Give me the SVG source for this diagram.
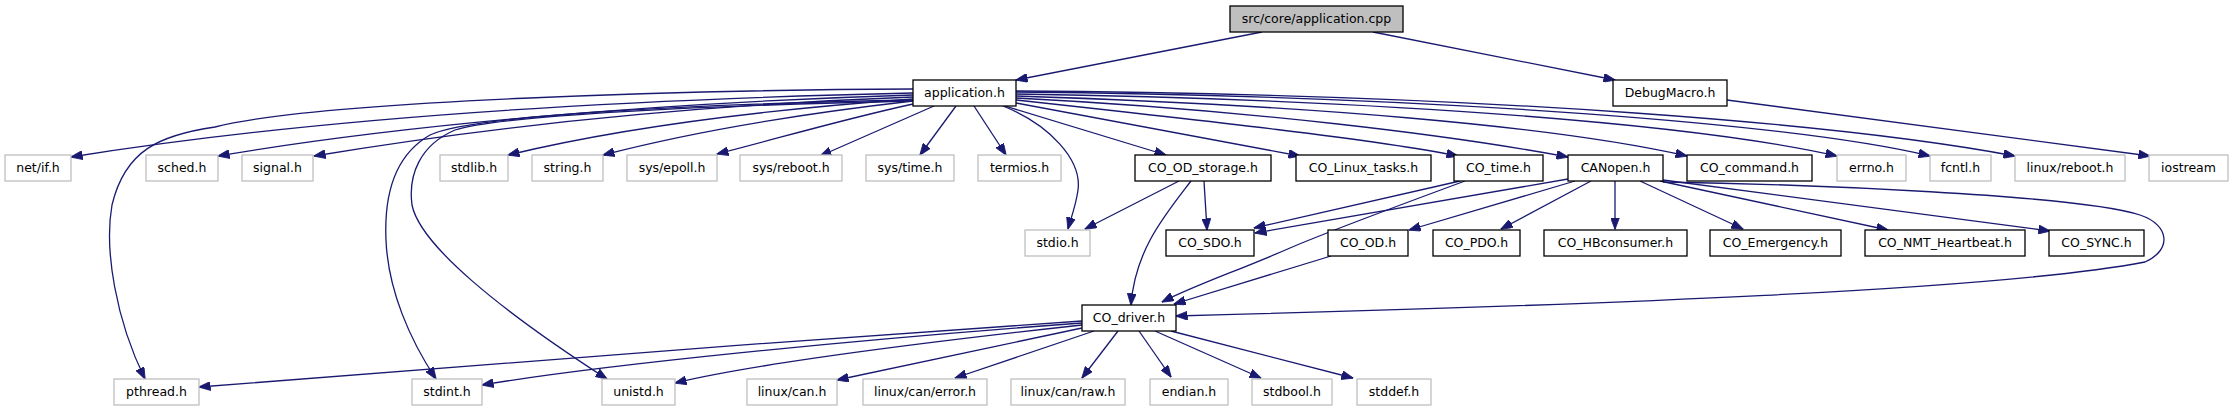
<svg xmlns="http://www.w3.org/2000/svg" width="2233" height="411" viewBox="0 0 2233 411">
<style>
rect{stroke-width:1.3}
.n rect{fill:#fff;stroke:#000}
.g rect{fill:#fff;stroke:#bfbfbf}
.r rect{fill:#bfbfbf;stroke:#000}
text{font-family:"DejaVu Sans","Liberation Sans",sans-serif;font-size:12.5px;text-anchor:middle;fill:#000}
#edges path{fill:none;stroke:#191970;stroke-width:1.3;marker-end:url(#a)}
</style>
<defs>
<marker id="a" markerWidth="12" markerHeight="9" refX="11.5" refY="4.5" orient="auto" markerUnits="userSpaceOnUse"><path d="M0,0 L12,4.5 L0,9 z" fill="#191970" stroke="#191970" stroke-width="0.8"/></marker>
</defs>
<rect width="2233" height="411" fill="#fff"/>
<g id="edges">
<path d="M1262,32 L1016,80"/>
<path d="M1373,32 L1615,80"/>
<path d="M1727,100 L2150,156"/>
<path d="M913,89 C700,90 320,100 215,127 C160,135 125,150 112,205 C104,250 116,320 145,379"/>
<path d="M913,93 C600,100 300,120 71,157"/>
<path d="M913,95 C650,103 400,125 218,156"/>
<path d="M913,97 C700,105 500,125 314,156"/>
<path d="M913,100 C700,104 470,115 430,135 C395,155 384,195 386,240 C388,290 410,340 436,379"/>
<path d="M913,101 C720,105 500,115 455,130 C420,145 408,175 412,205 C420,245 500,310 607,379"/>
<path d="M913,99 C760,110 620,128 508,155"/>
<path d="M913,101 C790,115 680,135 603,155"/>
<path d="M913,104 C840,120 780,138 717,154"/>
<path d="M934,106 L820,156"/>
<path d="M956,106 L920,155"/>
<path d="M974,106 L1006,155"/>
<path d="M1003,106 C1050,125 1082,160 1078,190 C1076,205 1071,218 1068,229"/>
<path d="M1005,106 L1166,155"/>
<path d="M1016,103 L1300,156"/>
<path d="M1016,100 C1200,120 1380,140 1458,156"/>
<path d="M1016,98 C1250,110 1450,135 1568,157"/>
<path d="M1016,96 C1300,105 1550,125 1687,156"/>
<path d="M1016,94 C1400,100 1700,125 1837,156"/>
<path d="M1016,92 C1450,96 1800,125 1930,156"/>
<path d="M1016,91 C1500,94 1850,125 2015,156"/>
<path d="M1179,181 L1085,229"/>
<path d="M1204,181 L1207,230"/>
<path d="M1191,181 C1165,215 1135,250 1131,305"/>
<path d="M1460,181 L1254,228"/>
<path d="M1465,181 C1400,205 1320,235 1290,248 C1240,270 1195,285 1162,302"/>
<path d="M1568,179 L1255,233"/>
<path d="M1575,181 L1409,230"/>
<path d="M1591,181 L1501,229"/>
<path d="M1615,181 L1615,229"/>
<path d="M1640,181 L1743,229"/>
<path d="M1660,181 L1888,230"/>
<path d="M1663,180 L2050,231"/>
<path d="M1663,182 C1800,184 2080,195 2140,215 C2170,225 2172,250 2145,262 C2000,290 1600,305 1176,316"/>
<path d="M1331,256 L1174,304"/>
<path d="M1082,321 C800,340 400,370 199,387"/>
<path d="M1082,323 C850,340 600,365 482,385"/>
<path d="M1082,325 C900,345 750,365 675,383"/>
<path d="M1082,328 L837,380"/>
<path d="M1094,331 L955,378"/>
<path d="M1118,331 L1082,378"/>
<path d="M1139,331 L1171,377"/>
<path d="M1155,331 L1261,378"/>
<path d="M1171,331 L1353,378"/>
</g>
<g id="root" class="r"><rect x="1230" y="6" width="173" height="26"/><text x="1316.5" y="23">src/core/application.cpp</text></g>
<g id="application_h" class="n"><rect x="913" y="80" width="103" height="26"/><text x="964.5" y="97">application.h</text></g>
<g id="DebugMacro_h" class="n"><rect x="1613" y="80" width="114" height="26"/><text x="1670" y="97">DebugMacro.h</text></g>
<g id="net_if_h" class="g"><rect x="5" y="155" width="66" height="26"/><text x="38" y="172">net/if.h</text></g>
<g id="sched_h" class="g"><rect x="146" y="155" width="72" height="26"/><text x="182" y="172">sched.h</text></g>
<g id="signal_h" class="g"><rect x="242" y="155" width="71" height="26"/><text x="277.5" y="172">signal.h</text></g>
<g id="stdlib_h" class="g"><rect x="440" y="155" width="68" height="26"/><text x="474" y="172">stdlib.h</text></g>
<g id="string_h" class="g"><rect x="532" y="155" width="71" height="26"/><text x="567.5" y="172">string.h</text></g>
<g id="sys_epoll_h" class="g"><rect x="627" y="155" width="90" height="26"/><text x="672" y="172">sys/epoll.h</text></g>
<g id="sys_reboot_h" class="g"><rect x="740" y="155" width="102" height="26"/><text x="791" y="172">sys/reboot.h</text></g>
<g id="sys_time_h" class="g"><rect x="866" y="155" width="88" height="26"/><text x="910" y="172">sys/time.h</text></g>
<g id="termios_h" class="g"><rect x="978" y="155" width="83" height="26"/><text x="1019.5" y="172">termios.h</text></g>
<g id="CO_OD_storage_h" class="n"><rect x="1135" y="155" width="136" height="26"/><text x="1203" y="172">CO_OD_storage.h</text></g>
<g id="CO_Linux_tasks_h" class="n"><rect x="1296" y="155" width="135" height="26"/><text x="1363.5" y="172">CO_Linux_tasks.h</text></g>
<g id="CO_time_h" class="n"><rect x="1454" y="155" width="89" height="26"/><text x="1498.5" y="172">CO_time.h</text></g>
<g id="CANopen_h" class="n"><rect x="1568" y="155" width="95" height="26"/><text x="1615.5" y="172">CANopen.h</text></g>
<g id="CO_command_h" class="n"><rect x="1687" y="155" width="125" height="26"/><text x="1749.5" y="172">CO_command.h</text></g>
<g id="errno_h" class="g"><rect x="1837" y="155" width="69" height="26"/><text x="1871.5" y="172">errno.h</text></g>
<g id="fcntl_h" class="g"><rect x="1930" y="155" width="61" height="26"/><text x="1960.5" y="172">fcntl.h</text></g>
<g id="linux_reboot_h" class="g"><rect x="2015" y="155" width="110" height="26"/><text x="2070" y="172">linux/reboot.h</text></g>
<g id="iostream" class="g"><rect x="2149" y="155" width="79" height="26"/><text x="2188.5" y="172">iostream</text></g>
<g id="stdio_h" class="g"><rect x="1025" y="230" width="65" height="26"/><text x="1057.5" y="247">stdio.h</text></g>
<g id="CO_SDO_h" class="n"><rect x="1166" y="230" width="88" height="26"/><text x="1210" y="247">CO_SDO.h</text></g>
<g id="CO_OD_h" class="n"><rect x="1328" y="230" width="80" height="26"/><text x="1368" y="247">CO_OD.h</text></g>
<g id="CO_PDO_h" class="n"><rect x="1433" y="230" width="87" height="26"/><text x="1476.5" y="247">CO_PDO.h</text></g>
<g id="CO_HBconsumer_h" class="n"><rect x="1544" y="230" width="143" height="26"/><text x="1615.5" y="247">CO_HBconsumer.h</text></g>
<g id="CO_Emergency_h" class="n"><rect x="1710" y="230" width="131" height="26"/><text x="1775.5" y="247">CO_Emergency.h</text></g>
<g id="CO_NMT_Heartbeat_h" class="n"><rect x="1865" y="230" width="160" height="26"/><text x="1945" y="247">CO_NMT_Heartbeat.h</text></g>
<g id="CO_SYNC_h" class="n"><rect x="2049" y="230" width="95" height="26"/><text x="2096.5" y="247">CO_SYNC.h</text></g>
<g id="CO_driver_h" class="n"><rect x="1082" y="305" width="94" height="26"/><text x="1129" y="322">CO_driver.h</text></g>
<g id="pthread_h" class="g"><rect x="114" y="379" width="85" height="26"/><text x="156.5" y="396">pthread.h</text></g>
<g id="stdint_h" class="g"><rect x="412" y="379" width="70" height="26"/><text x="447" y="396">stdint.h</text></g>
<g id="unistd_h" class="g"><rect x="602" y="379" width="73" height="26"/><text x="638.5" y="396">unistd.h</text></g>
<g id="linux_can_h" class="g"><rect x="747" y="379" width="90" height="26"/><text x="792" y="396">linux/can.h</text></g>
<g id="linux_can_error_h" class="g"><rect x="863" y="379" width="124" height="26"/><text x="925" y="396">linux/can/error.h</text></g>
<g id="linux_can_raw_h" class="g"><rect x="1011" y="379" width="114" height="26"/><text x="1068" y="396">linux/can/raw.h</text></g>
<g id="endian_h" class="g"><rect x="1150" y="379" width="78" height="26"/><text x="1189" y="396">endian.h</text></g>
<g id="stdbool_h" class="g"><rect x="1252" y="379" width="80" height="26"/><text x="1292" y="396">stdbool.h</text></g>
<g id="stddef_h" class="g"><rect x="1357" y="379" width="74" height="26"/><text x="1394" y="396">stddef.h</text></g>
</svg>
